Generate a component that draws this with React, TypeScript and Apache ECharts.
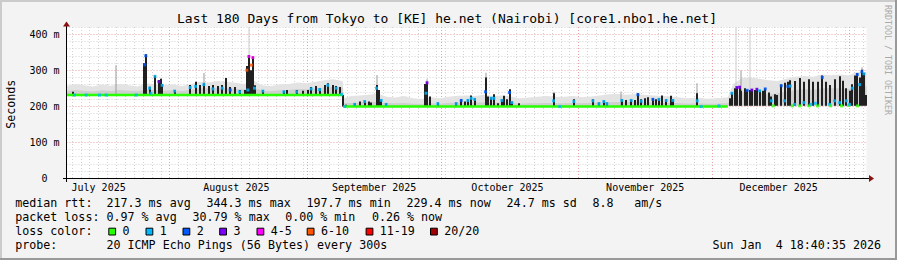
import React, { useEffect, useRef } from "react";
import * as echarts from "echarts";

const FONT = '"DejaVu Sans Mono", monospace';

const TITLE = "Last 180 Days from Tokyo to [KE] he.net (Nairobi) [core1.nbo1.he.net]";
const WATERMARK = "RRDTOOL / TOBI OETIKER";
const Y_TITLE = "Seconds";

// x axis: days since graph start (Jul 8 2025 18:40:35), 180 days shown
const X_MIN = 0;
const X_MAX = 180;
const Y_MIN = 0;
const Y_MAX = 420;

const MONTH_STARTS = [23.222, 54.222, 84.222, 115.222, 145.222, 176.222];
const MONTH_MIDS = [7.222, 38.222, 69.222, 99.222, 130.222, 160.222];
const MONTH_LABELS = ["July 2025", "August 2025", "September 2025", "October 2025", "November 2025", "December 2025"];
const MINOR_STEP_DAYS = 2;
const Y_MAJOR = [100, 200, 300, 400];
const Y_TICK_LABELS = [0, 100, 200, 300, 400];
const Y_MINOR_STEP = 20;

// median baseline level (ms) and the days where it changes
const BASE_BREAKS = [62.2, 148.8];
const BASE_LEVELS = [231, 199, 201];

// green (0 loss) median line
const GREEN_DAY = [0, 62.15, null, 62.35, 148.8];
const GREEN_VAL = [231, 231, null, 199, 199];

// smoke envelope
const SMOKE_DAY = [0, 2, 4, 6, 8, 10, 12, 14, 16, 18, 20, 22, 24, 26, 28, 30, 32, 34, 36, 38, 40, 42, 44, 46, 48, 50, 52, 54, 56, 58, 60, 62, 62.2,
  62.3, 64, 66, 68, 70, 72, 74, 76, 78, 80, 82, 84, 86, 88, 90, 92, 94, 96, 98, 100, 102, 104, 106, 108, 110, 112, 114, 116, 118, 120, 122, 124, 126, 128, 130, 132, 134, 136, 138, 140, 142, 144, 146, 148, 148.8,
  150, 152, 154, 156, 158, 160, 162, 164, 166, 168, 170, 172, 174, 176, 178, 180];
const SMOKE_MID = [242, 245, 243, 241, 244, 242, 245, 243, 242, 246, 245, 243, 244, 242, 246, 250, 249, 251, 250, 248, 247, 252, 243, 242, 244, 245, 248, 247, 250, 252, 254, 252, 250,
  208, 209, 210, 211, 212, 209, 208, 209, 207, 206, 208, 207, 209, 210, 211, 210, 210, 209, 210, 209, 207, 208, 208, 209, 208, 208, 209, 208, 209, 210, 211, 212, 211, 212, 211, 210, 209, 209, 208, 207, 208, 207, 207, 208, 208,
  222, 238, 240, 238, 232, 236, 240, 245, 248, 246, 250, 250, 250, 248, 258, 255];
const SMOKE_HI = [256, 262, 258, 255, 260, 257, 262, 258, 255, 263, 262, 258, 260, 256, 262, 268, 266, 270, 268, 265, 262, 272, 258, 256, 260, 262, 266, 264, 268, 272, 275, 270, 268,
  222, 228, 230, 232, 235, 226, 224, 228, 222, 220, 225, 222, 226, 229, 230, 228, 232, 228, 230, 226, 222, 224, 226, 228, 226, 226, 228, 225, 227, 230, 233, 234, 232, 234, 232, 230, 228, 227, 224, 222, 224, 221, 222, 224, 224,
  262, 278, 280, 276, 272, 270, 276, 282, 284, 282, 288, 286, 288, 285, 296, 294];

// dark median excursions (top value in ms)
const SPIKE_DAY = [1.42, 17.44, 17.84, 18.68, 19.91, 20.77, 21.15, 21.53, 24.3, 27.83, 29.03, 29.93, 30.9, 31.95, 32.92, 34.05, 35.04, 35.94, 36.84, 37.87, 38.93, 40.05,
  40.57, 41.02, 41.47, 41.92, 42.3, 44.17, 48.9, 49.57, 51.75, 53.17, 54.3, 55.06, 56.19, 56.93, 58.06, 58.8, 59.92, 60.69, 61.59, 62.2,
  62.94, 64.8, 65.93, 67.06, 67.96, 68.56, 69.76, 70.28, 70.82, 71.94, 80.67, 81.12, 81.68, 83.55, 87.69, 88.82, 89.56, 90.3, 91.07, 91.81,
  94.28, 94.8, 95.57, 96.15, 97.05, 97.95, 98.4, 99.08, 99.68, 100.2, 101.78, 109.58, 114.15, 118.43, 119.78, 120.9, 121.58,
  124.95, 125.94, 127.07, 127.97, 128.56, 129.32, 130.06, 130.8, 131.93, 132.69, 133.28, 134.04, 134.94, 136.07, 136.43, 141.92,
  149.18, 149.7, 150.3, 150.82, 151.43, 151.81, 152.55, 153.16, 153.69, 154.2, 154.81, 155.33, 155.94, 156.68, 157.22, 158.03, 158.57, 159.32, 159.92,
  160.82, 161.56, 162.31, 162.85, 163.82, 164.94, 165.91, 166.97, 167.93, 169.06, 170.05, 170.95, 171.69, 172.82, 173.94, 174.68, 175.45,
  176.19, 176.8, 177.32, 177.93, 178.45, 178.97, 179.42, 179.8];
const SPIKE_TOP = [240, 319, 344, 254, 285, 273, 276, 262, 245, 259, 268, 259, 264, 256, 259, 256, 259, 278, 253, 253, 245, 245,
  312, 342, 300, 338, 258, 245, 243, 245, 245, 243, 245, 253, 256, 250, 259, 264, 259, 256, 253, 231,
  204, 208, 213, 216, 213, 210, 259, 245, 219, 208, 262, 268, 227, 210, 210, 219, 213, 219, 230, 222,
  280, 227, 225, 233, 208, 219, 229, 219, 247, 213, 208, 236, 219, 219, 210, 216, 210,
  219, 217, 219, 217, 236, 219, 222, 225, 222, 219, 222, 230, 219, 229, 219, 236,
  222, 239, 250, 255, 256, 243, 250, 246, 245, 248, 245, 250, 245, 243, 250, 238, 227, 233, 231,
  260, 265, 268, 272, 270, 278, 268, 275, 268, 268, 285, 268, 259, 275, 283, 271, 250,
  243, 261, 285, 292, 280, 301, 292, 231];

// individual ping smoke streaks
const STREAK_DAY = [11.2, 31.0, 69.8, 81.0, 94.3, 109.6, 124.8, 141.9, 151.8, 178.9];
const STREAK_TOP = [314, 292, 287, 275, 293, 240, 241, 264, 300, 308];
const FAINT_DAY = [41.0, 150.7, 153.7];
const FAINT_TOP = [420, 420, 420];

// loss-coloured median samples
const DOT_DAY = [1.8, 4.43, 7.43, 8.93, 15.7, 17.6, 17.84, 18.68, 19.0, 19.91, 20.77, 21.53, 24.3,
  27.83, 29.03, 30.9, 32.92, 35.04, 36.84, 38.93, 40.57, 41.02, 41.6, 41.92, 40.8, 42.3, 44.17,
  48.9, 51.75, 55.06, 56.93, 58.8, 60.69, 61.9, 62.6, 64.8, 67.06, 69.76, 70.82, 71.94,
  80.9, 81.12, 83.55, 87.69, 88.82, 90.3, 91.07, 91.81, 94.28, 95.57, 96.15, 97.95, 99.68, 100.2,
  109.58, 111, 114.15, 118.43, 119.78, 120.9, 121.58, 124.95, 127.07, 128.56, 129.32, 131.93, 133.28, 134.94, 136.43,
  141.92, 142.8, 146.8, 149.7, 150.82, 151.43, 153.16, 154.2, 155.33, 155.94, 157.22, 158.6,
  159.0, 160.82, 161.56, 162.31, 162.85, 163.3, 163.82, 165.0, 165.91, 167.1, 167.5, 168.5, 169.0, 170.05, 171.69, 171.9,
  172.82, 173.94, 174.4, 175.45, 176.0, 176.19, 176.8, 177.93, 178.0, 178.45, 178.97, 179.42];
const DOT_VAL = [231, 231, 231, 231, 231, 315, 340, 250, 236, 283, 268, 258, 242,
  252, 255, 260, 248, 250, 245, 240, 300, 338, 314, 335, 245, 250, 242,
  240, 240, 248, 246, 258, 250, 233, 199, 205, 213, 250, 216, 205,
  236, 265, 207, 207, 216, 216, 222, 219, 240, 222, 222, 216, 238, 210,
  215, 199, 213, 215, 207, 213, 207, 216, 216, 232, 214, 219, 219, 216, 216,
  215, 199, 201, 236, 252, 253, 244, 245, 247, 243, 248, 215,
  201, 257, 215, 255, 256, 201, 205, 201, 210, 201, 205, 208, 201, 280, 205, 201,
  215, 210, 201, 215, 202, 205, 250, 288, 201, 260, 296, 290];
const DOT_LOSS = [1, 1, 1, 1, 1, 2, 2, 1, 1, 1, 3, 1, 1,
  1, 1, 1, 1, 1, 2, 1, 5, 4, 5, 4, 1, 1, 1,
  1, 1, 1, 1, 1, 1, 1, 1, 1, 1, 1, 1, 1,
  1, 3, 1, 1, 2, 1, 1, 1, 2, 1, 1, 1, 2, 1,
  1, 1, 1, 1, 1, 1, 1, 1, 1, 2, 1, 2, 1, 1, 1,
  1, 1, 1, 1, 3, 3, 2, 3, 3, 1, 2, 1,
  0, 2, 1, 2, 1, 0, 1, 0, 1, 0, 1, 1, 0, 2, 1, 0,
  1, 1, 0, 1, 0, 1, 1, 2, 0, 1, 2, 1];

const LOSS_COLORS = ["#26ff00", "#00b8ff", "#0059ff", "#7e00ff", "#ff00ff", "#ff5500", "#ff0000", "#a10000"];
const LOSS_LABELS = ["0", "1", "2", "3", "4-5", "6-10", "11-19", "20/20"];

const RTT_HEAD = "median rtt:";
const RTT_STATS = ["217.3 ms avg", "344.3 ms max", "197.7 ms min", "229.4 ms now", "24.7 ms sd", "8.8", "am/s"];
const LOSS_HEAD = "packet loss:";
const LOSS_STATS = ["0.97 % avg", "30.79 % max", "0.00 % min", "0.26 % now"];
const COLOR_HEAD = "loss color:";
const PROBE_HEAD = "probe:";
const PROBE_TEXT = "20 ICMP Echo Pings (56 Bytes) every 300s";
const DATE_PARTS = ["Sun Jan", "4 18:40:35 2026"];

function baseAt(d: number): number {
  let i = 0;
  while (i < BASE_BREAKS.length && d >= BASE_BREAKS[i]) i++;
  return BASE_LEVELS[i];
}

function buildOption() {
  const minorDays: number[] = [];
  for (let d = MONTH_STARTS[0] % MINOR_STEP_DAYS; d < X_MAX; d += MINOR_STEP_DAYS) minorDays.push(+d.toFixed(3));
  const yMinor: number[] = [];
  for (let v = Y_MINOR_STEP; v <= Y_MAX; v += Y_MINOR_STEP) if (v % 100 !== 0) yMinor.push(v);

  // smoke band drawn as one polygon through the axis scales
  const band = (color: string, upper: number[]) => (params: any, api: any) => {
    const top = SMOKE_DAY.map((d, i) => api.coord([d, upper[i]]));
    const bot = SMOKE_DAY.map((d) => api.coord([d, baseAt(d)])).reverse();
    return { type: "polygon", shape: { points: top.concat(bot) }, style: { fill: color } };
  };

  const bar = (color: string, w: number) => (params: any, api: any) => {
    const x = api.value(0);
    const a = api.coord([x, api.value(1)]);
    const b = api.coord([x, api.value(2)]);
    return {
      type: "rect",
      shape: { x: Math.round(a[0]) - w / 2, y: b[1], width: w, height: a[1] - b[1] },
      style: { fill: color },
    };
  };

  const gridLineMinor = { color: "#d2d2d2", type: [1, 2], width: 1 };
  const gridLineMajor = { color: "#eaa0a0", type: [1, 2], width: 1 };

  const lf = 11.67;
  const txt = (text: string, x: number, y: number, extra: any = {}) => ({
    type: "text", x, y, z: 100,
    style: { text, fontSize: lf, fontFamily: FONT, fill: "#000", align: "left", verticalAlign: "middle", ...extra },
  });

  const R1 = 203.3, R2 = 217.4, R3 = 231.4, R4 = 245.4;
  const rttX = [106.5, 206.5, 306.5, 406.5, 506.6, 592.5, 634.2];
  const lossX = [106.5, 192.5, 285.2, 371.9];
  const colorTextX = [122.5, 159.7, 196.7, 233.4, 270.7, 320.9, 379.8, 444.2];

  const graphic: any[] = [
    { type: "rect", z: 100, shape: { x: 0, y: 0, width: 897, height: 2 }, style: { fill: "#cbcbcb" } },
    { type: "rect", z: 100, shape: { x: 0, y: 0, width: 2, height: 260 }, style: { fill: "#cbcbcb" } },
    { type: "rect", z: 100, shape: { x: 0, y: 258, width: 897, height: 2 }, style: { fill: "#999999" } },
    { type: "rect", z: 100, shape: { x: 895, y: 0, width: 2, height: 260 }, style: { fill: "#999999" } },
    { type: "line", z: 100, shape: { x1: 63, y1: 178.5, x2: 869.5, y2: 178.5 }, style: { stroke: "#000", lineWidth: 1 } },
    { type: "polygon", z: 100, shape: { points: [[869, 175], [874, 178.5], [869, 182]] }, style: { fill: "#8b1010" } },
    { type: "line", z: 100, shape: { x1: 66.5, y1: 182, x2: 66.5, y2: 25 }, style: { stroke: "#000", lineWidth: 1 } },
    { type: "polygon", z: 100, shape: { points: [[63, 26.5], [66.5, 21.5], [70, 26.5]] }, style: { fill: "#8b1010" } },
    txt(TITLE, 447, 18.8, { fontSize: 13, align: "center" }),
    { type: "text", x: 10.9, y: 104.3, rotation: Math.PI / 2, z: 100,
      style: { text: Y_TITLE, fontSize: lf, fontFamily: FONT, fill: "#000", align: "center", verticalAlign: "middle" } },
    { type: "text", x: 888, y: 60, rotation: -Math.PI / 2, z: 100,
      style: { text: WATERMARK, fontSize: 8.3, fontFamily: FONT, fill: "#aaaaaa", align: "center", verticalAlign: "middle" } },
    txt(RTT_HEAD, 15.2, R1),
    ...RTT_STATS.map((s, i) => txt(s, rttX[i], R1)),
    txt(LOSS_HEAD, 15.2, R2),
    ...LOSS_STATS.map((s, i) => txt(s, lossX[i], R2)),
    txt(COLOR_HEAD, 15.2, R3),
    ...LOSS_LABELS.map((s, i) => txt(s, colorTextX[i], R3)),
    ...LOSS_COLORS.map((c, i) => ({
      type: "rect", z: 100,
      shape: { x: colorTextX[i] - 13.7, y: 228.2, width: 6.8, height: 6.8 },
      style: { fill: c, stroke: "#000", lineWidth: 1 },
    })),
    txt(PROBE_HEAD, 15.2, R4),
    txt(PROBE_TEXT, 106.5, R4),
    txt(DATE_PARTS[0], 712.5, R4),
    txt(DATE_PARTS[1], 712.5 + 9 * 7.025, R4),
  ];

  const xBase = { type: "value", min: X_MIN, max: X_MAX, position: "bottom", axisLine: { show: false } };
  const yBase = { type: "value", min: Y_MIN, max: Y_MAX, axisLine: { show: false } };

  return {
    animation: false,
    backgroundColor: "#f3f3f3",
    textStyle: { fontFamily: FONT },
    grid: { left: 66.5, top: 27, width: 800, height: 151.2, show: true, backgroundColor: "#ffffff", borderWidth: 0 },
    xAxis: [
      { ...xBase, axisTick: { show: false, customValues: minorDays }, axisLabel: { show: false },
        splitLine: { show: true, lineStyle: gridLineMinor } },
      { ...xBase, axisTick: { show: true, customValues: MONTH_STARTS, length: 3, inside: false, lineStyle: gridLineMajor },
        axisLabel: { show: false }, splitLine: { show: true, lineStyle: gridLineMajor } },
      { ...xBase, axisTick: { show: false }, splitLine: { show: false },
        axisLabel: {
          show: true, customValues: MONTH_MIDS, margin: 4, fontSize: 10, fontFamily: FONT, color: "#000",
          formatter: (v: number) => {
            let bi = 0;
            MONTH_MIDS.forEach((m, i) => { if (Math.abs(m - v) < Math.abs(MONTH_MIDS[bi] - v)) bi = i; });
            return MONTH_LABELS[bi];
          },
        } },
    ],
    yAxis: [
      { ...yBase, position: "left", axisTick: { show: false, customValues: yMinor }, axisLabel: { show: false },
        splitLine: { show: true, lineStyle: gridLineMinor } },
      { ...yBase, position: "left", axisTick: { show: false, customValues: Y_MAJOR },
        splitLine: { show: true, lineStyle: gridLineMajor },
        axisLabel: {
          show: true, customValues: Y_TICK_LABELS, margin: 7, fontSize: 10, fontFamily: FONT, color: "#000",
          formatter: (v: number) => (v === 0 ? "0\u00a0\u00a0" : `${v} m`),
        } },
    ],
    graphic,
    series: [
      { type: "custom", renderItem: band("#e3e3e3", SMOKE_HI), silent: true, z: 1, encode: { x: 0, y: 1 }, data: [[0, 0]] },
      { type: "custom", renderItem: band("#cfcfcf", SMOKE_MID), silent: true, z: 1, encode: { x: 0, y: 1 }, data: [[0, 0]] },
      { type: "custom", renderItem: bar("#cccccc", 1), silent: true, z: 2, encode: { x: 0, y: [1, 2] },
        data: FAINT_DAY.map((d, i) => [d, baseAt(d), FAINT_TOP[i]]) },
      { type: "custom", renderItem: bar("#9a9a9a", 1), silent: true, z: 2, encode: { x: 0, y: [1, 2] },
        data: STREAK_DAY.map((d, i) => [d, baseAt(d), STREAK_TOP[i]]) },
      { type: "custom", renderItem: bar("#202020", 2), silent: true, z: 3, encode: { x: 0, y: [1, 2] },
        data: SPIKE_DAY.map((d, i) => [d, baseAt(d), SPIKE_TOP[i]]) },
      { type: "line", symbol: "none", silent: true, z: 4, connectNulls: false,
        lineStyle: { color: LOSS_COLORS[0], width: 2.6 },
        data: GREEN_DAY.map((d, i) => (d === null ? [62.25, "-"] : [d, GREEN_VAL[i]])) },
      { type: "scatter", symbol: "rect", symbolSize: [3, 3], silent: true, z: 5,
        data: DOT_DAY.map((d, i) => ({ value: [d, DOT_VAL[i]], itemStyle: { color: LOSS_COLORS[DOT_LOSS[i]] } })) },
    ],
  };
}

export default function App() {
  const ref = useRef<HTMLDivElement>(null);
  useEffect(() => {
    if (!ref.current) return;
    const chart = echarts.init(ref.current, null, { renderer: "svg", width: 897, height: 260 });
    chart.setOption(buildOption() as any);
    return () => chart.dispose();
  }, []);
  return <div ref={ref} style={{ position: "absolute", left: 0, top: 0, width: 897, height: 260 }} />;
}
